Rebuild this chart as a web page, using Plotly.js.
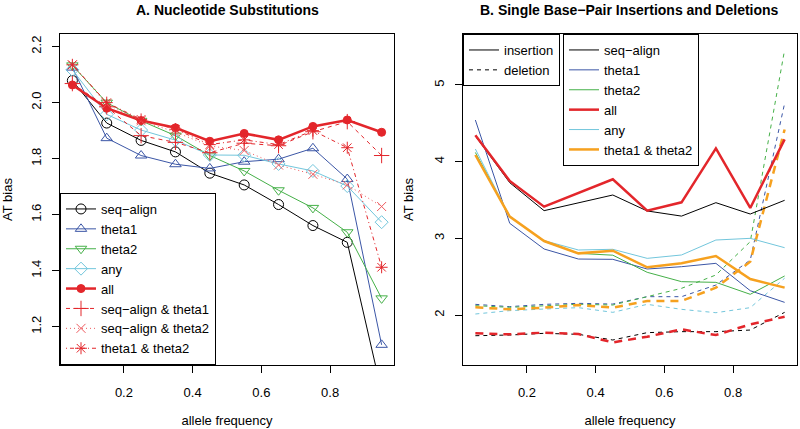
<!DOCTYPE html>
<html>
<head>
<meta charset="utf-8">
<script src="https://cdn.plot.ly/plotly-3.0.1.min.js"></script>
<style>html,body{margin:0;padding:0;background:#fff;}#chart{width:800px;height:429px;}</style>
</head>
<body>
<div id="chart"></div>
<script>
// ---- data ----
var freq = [0.05, 0.15, 0.25, 0.35, 0.45, 0.55, 0.65, 0.75, 0.85, 0.95];
var freqTicks = [0.2, 0.4, 0.6, 0.8];

// Panel A: nucleotide substitutions (AT bias)
var subSeqAlign = [2.079, 1.927, 1.865, 1.824, 1.748, 1.706, 1.636, 1.561, 1.501, 0.967];
var subTheta1   = [2.125, 1.873, 1.811, 1.780, 1.765, 1.789, 1.798, 1.837, 1.727, 1.135];
var subTheta2   = [2.133, 2.000, 1.935, 1.882, 1.811, 1.756, 1.687, 1.624, 1.537, 1.301];
var subAny      = [2.117, 1.958, 1.902, 1.866, 1.813, 1.812, 1.781, 1.756, 1.702, 1.573];
var subAll      = [2.063, 1.980, 1.936, 1.910, 1.862, 1.890, 1.867, 1.915, 1.938, 1.894];
var subSaT1     = [2.068, 1.985, 1.882, 1.858, 1.821, 1.855, 1.846, 1.896, 1.932, 1.811];
var subSaT2     = [2.135, 1.995, 1.935, 1.895, 1.845, 1.829, 1.777, 1.744, 1.706, 1.629];
var subT1T2     = [2.135, 2.000, 1.940, 1.905, 1.850, 1.867, 1.850, 1.900, 1.839, 1.412];

// Panel B: single base-pair insertions (solid) and deletions (dashed)
var insSeqAlign = [4.335, 3.726, 3.361, 3.465, 3.565, 3.357, 3.290, 3.465, 3.317, 3.496];
var insTheta1   = [4.543, 3.196, 2.861, 2.730, 2.726, 2.600, 2.630, 2.674, 2.317, 2.165];
var insTheta2   = [4.120, 3.290, 2.960, 2.804, 2.780, 2.557, 2.435, 2.426, 2.270, 2.509];
var insAll      = [4.343, 3.748, 3.413, 3.590, 3.770, 3.361, 3.470, 4.174, 3.396, 4.291];
var insAny      = [4.165, 3.280, 2.970, 2.848, 2.857, 2.739, 2.783, 2.978, 3.000, 2.878];
var insT1T2     = [4.087, 3.283, 2.965, 2.804, 2.839, 2.622, 2.674, 2.770, 2.470, 2.357];

var delSeqAlign = [1.730, 1.739, 1.761, 1.748, 1.674, 1.770, 1.783, 1.783, 1.804, 2.035];
var delTheta1   = [2.139, 2.109, 2.139, 2.152, 2.143, 2.239, 2.239, 2.391, 2.717, 4.761];
var delTheta2   = [2.122, 2.100, 2.120, 2.140, 2.130, 2.239, 2.348, 2.522, 2.957, 5.460];
var delAll      = [1.761, 1.748, 1.770, 1.752, 1.643, 1.717, 1.813, 1.739, 1.878, 1.978];
var delAny      = [2.013, 2.057, 2.078, 2.096, 2.035, 2.139, 2.074, 2.030, 2.096, 2.480];
var delT1T2     = [2.100, 2.074, 2.096, 2.130, 2.096, 2.183, 2.183, 2.357, 2.696, 4.420];

// ---- styles ----
var C = {black:'#000000', blue:'#3b56a6', green:'#45b048', cyan:'#72c6dc', red:'#e3262b', orange:'#f6a11f'};
var FONT = 'Liberation Sans, Arial, Helvetica, sans-serif';
var FS = 13;

function subTrace(name, y, color, width, dash, symbol, size){
  return {x: freq, y: y, name: name, type:'scatter', mode:'lines+markers',
    xaxis:'x', yaxis:'y', legend:'legend',
    line:{color:color, width:width, dash:dash},
    marker:{symbol:symbol, size:size, color:color, line:{color:color, width:1}}};
}
function bTrace(name, y, color, width, dash, showleg){
  return {x: freq, y: y, name: name, type:'scatter', mode:'lines',
    xaxis:'x2', yaxis:'y2', legend:'legend3', showlegend: showleg,
    line:{color:color, width:width, dash:dash}};
}

var thinDash = '4px,4px', thickDash = '8px,6px';
var traces = [
  subTrace('seq\u2212align', subSeqAlign, C.black, 1, 'solid', 'circle-open', 10),
  subTrace('theta1', subTheta1, C.blue, 1, 'solid', 'triangle-up-open', 10),
  subTrace('theta2', subTheta2, C.green, 1, 'solid', 'triangle-down-open', 10),
  subTrace('any', subAny, C.cyan, 1, 'solid', 'diamond-open', 10),
  subTrace('all', subAll, C.red, 2.5, 'solid', 'circle', 8),
  subTrace('seq\u2212align & theta1', subSaT1, C.red, 1, '4px,4px', 'cross-thin-open', 11),
  subTrace('seq\u2212align & theta2', subSaT2, '#ee5a5e', 1, '1px,3px', 'x-thin-open', 9),
  subTrace('theta1 & theta2', subT1T2, C.red, 1, '1px,3px,4px,3px', 'asterisk-open', 10),

  bTrace('seq\u2212align', delSeqAlign, C.black, 1, thinDash, false),
  bTrace('theta1', delTheta1, C.blue, 1, thinDash, false),
  bTrace('theta2', delTheta2, C.green, 1, thinDash, false),
  bTrace('any', delAny, C.cyan, 1, thinDash, false),
  bTrace('theta1 & theta2', delT1T2, C.orange, 2.5, thickDash, false),
  bTrace('all', delAll, C.red, 2.5, thickDash, false),

  bTrace('seq\u2212align', insSeqAlign, C.black, 1, 'solid', true),
  bTrace('theta1', insTheta1, C.blue, 1, 'solid', true),
  bTrace('theta2', insTheta2, C.green, 1, 'solid', true),
  bTrace('all', insAll, C.red, 2.5, 'solid', true),
  bTrace('any', insAny, C.cyan, 1, 'solid', true),
  bTrace('theta1 & theta2', insT1T2, C.orange, 2.5, 'solid', true),

  {x:[null], y:[null], name:'insertion', type:'scatter', mode:'lines', xaxis:'x2', yaxis:'y2',
   legend:'legend2', line:{color:'#555555', width:1.5, dash:'solid'}},
  {x:[null], y:[null], name:'deletion', type:'scatter', mode:'lines', xaxis:'x2', yaxis:'y2',
   legend:'legend2', line:{color:'#000000', width:1, dash:thinDash}}
];

var ax = {
  showline:true, mirror:true, linecolor:'#000', linewidth:1,
  ticks:'outside', ticklen:7, tickcolor:'#000', tickwidth:1,
  showgrid:false, zeroline:false,
  tickfont:{family:FONT, size:FS, color:'#000'}
};
function merge(a,b){var o={};for(var k in a)o[k]=a[k];for(var k2 in b)o[k2]=b[k2];return o;}

var legendBase = {bgcolor:'#fff', bordercolor:'#000', borderwidth:1,
  font:{family:FONT, size:FS, color:'#000'}, tracegroupgap:0, itemclick:false};

var layout = {
  width:800, height:429,
  margin:{l:60, r:3, t:34, b:64},
  paper_bgcolor:'#fff', plot_bgcolor:'#fff',
  font:{family:FONT, size:FS, color:'#000'},
  xaxis: merge(ax, {domain:[0,0.4532], range:[0.014,0.986], tickvals:freqTicks, ticktext:freqTicks.map(String),
    anchor:'y', ticklabelstandoff:8,
    title:{text:'allele frequency', font:{family:FONT,size:FS}, standoff:17}}),
  yaxis: merge(ax, {domain:[0,1], range:[1.063,2.245], tickvals:[1.2,1.4,1.6,1.8,2.0,2.2], tickformat:'.1f',
    anchor:'x', tickangle:-90, ticklabelstandoff:6,
    title:{text:'AT bias', font:{family:FONT,size:FS}, standoff:15}}),
  xaxis2: merge(ax, {domain:[0.5468,1], range:[0.014,0.986], tickvals:freqTicks, ticktext:freqTicks.map(String),
    anchor:'y2', ticklabelstandoff:8,
    title:{text:'allele frequency', font:{family:FONT,size:FS}, standoff:17}}),
  yaxis2: merge(ax, {domain:[0,1], range:[1.348,5.665], tickvals:[2,3,4,5],
    anchor:'x2', tickangle:-90, ticklabelstandoff:6,
    title:{text:'AT bias', font:{family:FONT,size:FS}, standoff:15}}),
  legend: merge(legendBase, {x:0, y:0, xanchor:'left', yanchor:'bottom'}),
  legend2: merge(legendBase, {x:0.5468, y:1, xanchor:'left', yanchor:'top'}),
  legend3: merge(legendBase, {x:0.6825, y:1, xanchor:'left', yanchor:'top'}),
  showlegend:true,
  annotations:[
    {text:'<b>A. Nucleotide Substitutions</b>', xref:'x domain', yref:'paper', x:0.5, y:1.0725,
     xanchor:'center', yanchor:'middle', showarrow:false, font:{family:FONT, size:14, color:'#000'}},
    {text:'<b>B. Single Base\u2212Pair Insertions and Deletions</b>', xref:'x2 domain', yref:'paper', x:0.5, y:1.0725,
     xanchor:'center', yanchor:'middle', showarrow:false, font:{family:FONT, size:14, color:'#000'}}
  ]
};

Plotly.newPlot('chart', traces, layout, {staticPlot:true, displayModeBar:false});
</script>
</body>
</html>
